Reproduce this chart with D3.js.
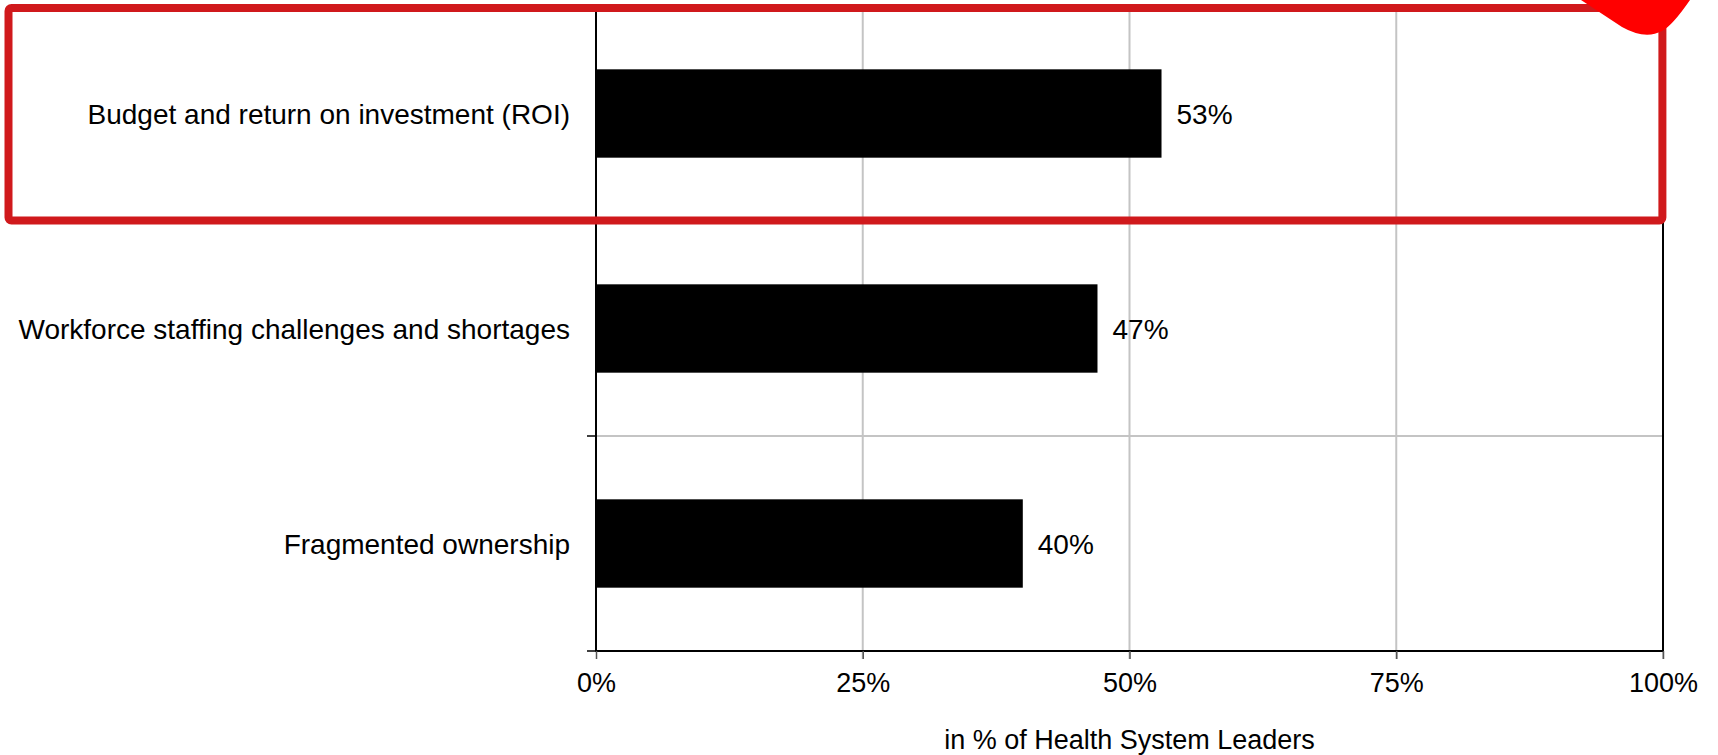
<!DOCTYPE html>
<meta charset="utf-8">
<style>
  body { margin: 0; background: #fff; }
  text { font-family: "Liberation Sans", Arial, sans-serif; fill: #000; }
</style>
<body>
<div id="chart"></div>
<script src="https://d3js.org/d3.v7.min.js"></script>
<script>
  // ——— data ———
  const categories = [
    "Budget and return on investment (ROI)",
    "Workforce staffing challenges and shortages",
    "Fragmented ownership"
  ];
  const values = [53, 47, 40];
  const xTicks = [0, 25, 50, 75, 100];
  const xTitle = "in % of Health System Leaders";

  const W = 1718, H = 755;
  const margin = { top: 6, right: 55, bottom: 104, left: 596 };
  const width = W - margin.left - margin.right;
  const height = H - margin.top - margin.bottom;

  const svg = d3.select("#chart").append("svg")
      .attr("width", W)
      .attr("height", H);

  const g = svg.append("g")
      .attr("transform", `translate(${margin.left},${margin.top})`);

  const x = d3.scaleLinear().domain([0, 100]).range([0, width]);
  const y = d3.scaleBand()
      .domain(categories)
      .range([0, height])
      .paddingInner(0.589)
      .paddingOuter(0.589 / 2);

  const step = y.step();
  const bounds = d3.range(categories.length + 1).map(i => i * step);

  // gridlines
  g.append("g")
    .selectAll("line")
    .data(xTicks.filter(d => d > 0))
    .join("line")
      .attr("x1", d => x(d)).attr("x2", d => x(d))
      .attr("y1", 0).attr("y2", height + 8)
      .attr("stroke", "#c4c4c4")
      .attr("stroke-width", 2);

  g.append("g")
    .selectAll("line")
    .data(bounds.slice(1, -1))
    .join("line")
      .attr("x1", 0).attr("x2", width)
      .attr("y1", d => d).attr("y2", d => d)
      .attr("stroke", "#c4c4c4")
      .attr("stroke-width", 2);

  // bars
  g.selectAll(".bar")
    .data(values)
    .join("rect")
      .attr("class", "bar")
      .attr("x", 0)
      .attr("y", (d, i) => y(categories[i]))
      .attr("width", d => x(d))
      .attr("height", y.bandwidth())
      .attr("fill", "#000");

  // value labels
  g.selectAll(".val")
    .data(values)
    .join("text")
      .attr("class", "val")
      .attr("x", d => x(d) + 15)
      .attr("y", (d, i) => y(categories[i]) + y.bandwidth() / 2)
      .attr("dy", "0.36em")
      .attr("font-size", 28)
      .text(d => d + "%");

  // category labels
  g.selectAll(".cat")
    .data(categories)
    .join("text")
      .attr("class", "cat")
      .attr("x", -26)
      .attr("y", d => y(d) + y.bandwidth() / 2)
      .attr("dy", "0.36em")
      .attr("text-anchor", "end")
      .attr("font-size", 28)
      .text(d => d);

  // frame: left + bottom axis lines, right/top border
  g.append("rect")
    .attr("x", 0).attr("y", 0)
    .attr("width", width).attr("height", height)
    .attr("fill", "none")
    .attr("stroke", "#000")
    .attr("stroke-width", 2);

  // y tick marks at band boundaries
  g.append("g")
    .selectAll("line")
    .data(bounds.slice(1))
    .join("line")
      .attr("x1", -9).attr("x2", 0)
      .attr("y1", d => d).attr("y2", d => d)
      .attr("stroke", "#000")
      .attr("stroke-width", 1.5);

  // x axis
  g.append("g")
    .attr("transform", `translate(0,${height})`)
    .call(d3.axisBottom(x)
      .tickValues(xTicks)
      .tickSize(8)
      .tickPadding(14)
      .tickFormat(d => d + "%"))
    .call(a => a.select(".domain").remove())
    .call(a => a.selectAll(".tick line").attr("stroke", "#555").attr("stroke-width", 1.5))
    .call(a => a.selectAll(".tick text")
      .attr("font-size", 27)
      .attr("font-family", "Liberation Sans, Arial, sans-serif")
      .attr("fill", "#000"));

  // x axis title
  g.append("text")
    .attr("x", width / 2)
    .attr("y", H - margin.top - 6)
    .attr("text-anchor", "middle")
    .attr("font-size", 27)
    .text(xTitle);

  // highlight box around first category
  svg.append("rect")
    .attr("x", 8.5)
    .attr("y", 8)
    .attr("width", 1662.4 - 8.5)
    .attr("height", margin.top + step - 0.5 - 8)
    .attr("rx", 3)
    .attr("fill", "none")
    .attr("stroke", "#d0191c")
    .attr("stroke-width", 8);

  // red marker blob at top-right corner
  svg.append("path")
    .attr("d", "M1581,0 L1622,27 Q1645,40 1662,31 Q1672,26 1690,0 Z")
    .attr("fill", "#ff0000");
</script>
</body>
